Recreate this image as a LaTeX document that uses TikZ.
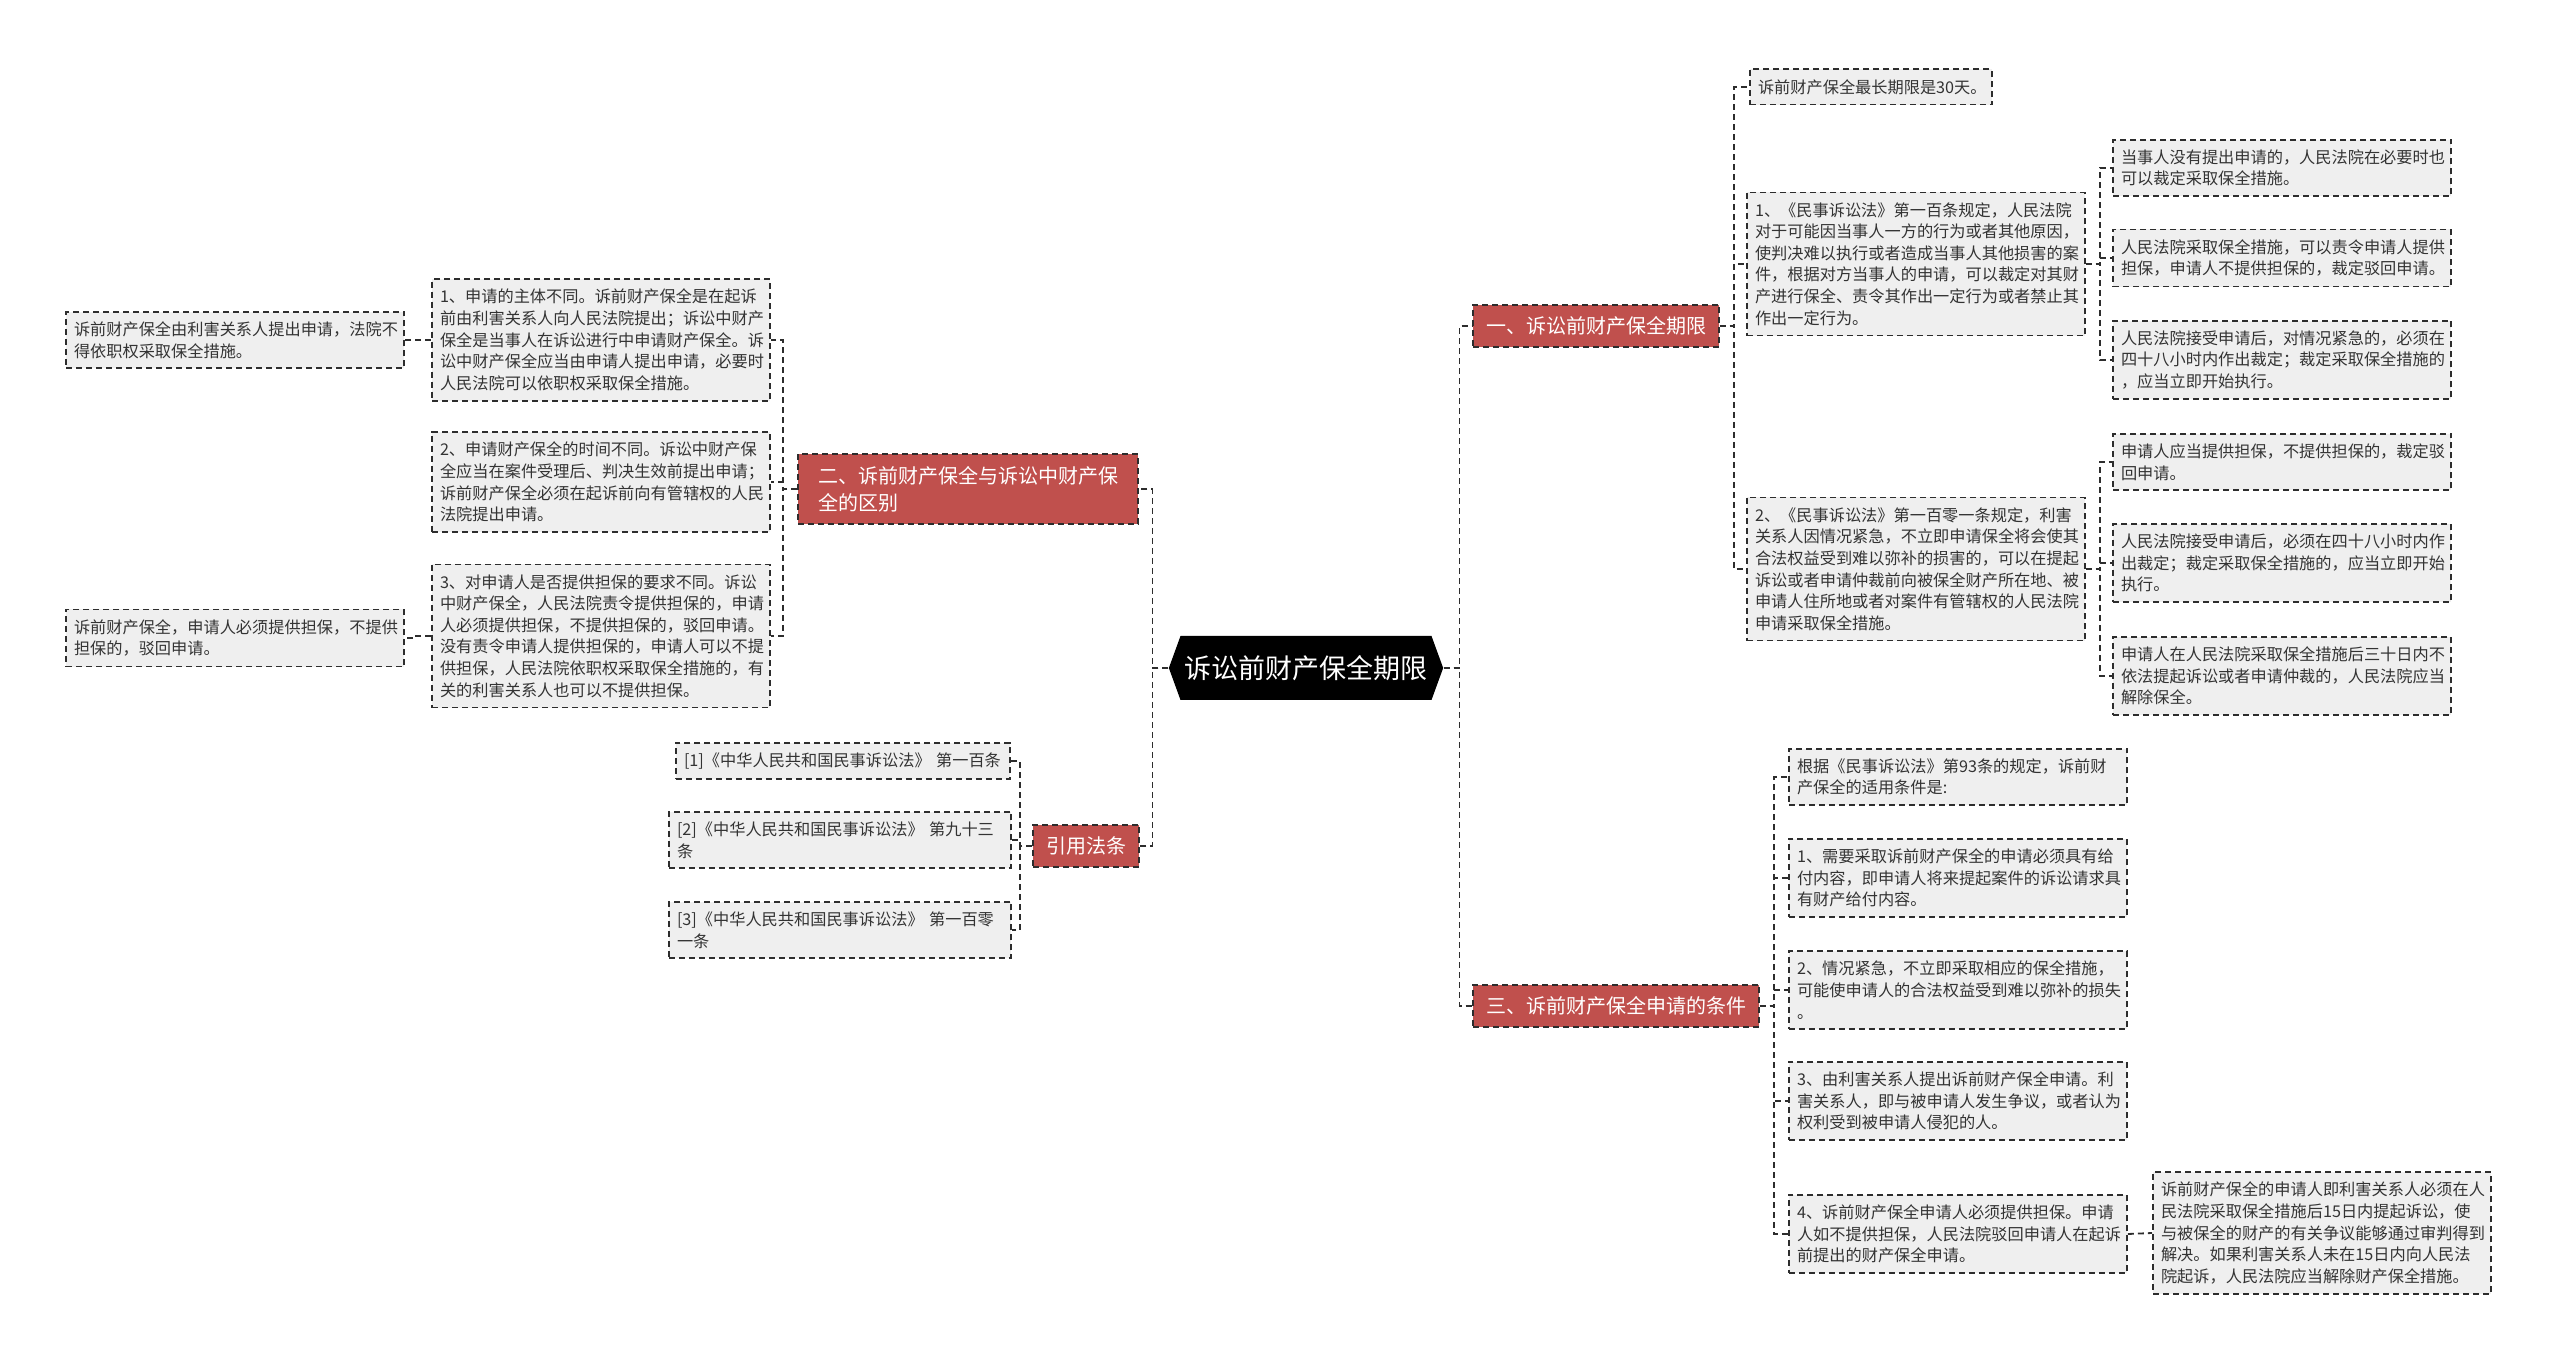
\documentclass[tikz,border=0pt]{standalone}
\usepackage{fontspec}
\setmainfont{Noto Sans CJK SC}
\usetikzlibrary{shapes.symbols}

\definecolor{branchred}{RGB}{192,80,77}
\definecolor{leafgray}{RGB}{239,239,239}
\definecolor{edgegray}{RGB}{45,45,45}

\tikzset{
  link/.style={draw=edgegray, line width=0.9pt, dash pattern=on 3pt off 2pt},
  leaf/.style={draw=edgegray, line width=0.9pt, dash pattern=on 3pt off 2pt,
    fill=leafgray, text=black!80, align=left, text width=161pt,
    inner xsep=4pt, inner ysep=5pt, font=\fontsize{8.1pt}{10.8pt}\selectfont},
  branch/.style={draw=edgegray, line width=0.9pt, dash pattern=on 3pt off 2pt,
    fill=branchred, text=white, align=left,
    inner xsep=6.5pt, inner ysep=6pt, font=\fontsize{10pt}{13.5pt}\selectfont},
  root/.style={signal, signal to=west and east, signal pointer angle=140,
    fill=black, text=white, inner xsep=2pt, minimum height=32pt,
    font=\fontsize{13.5pt}{16pt}\selectfont}
}

\begin{document}
\begin{tikzpicture}[x=0.5pt,y=-0.5pt]
\useasboundingbox (0,0) rectangle (2560,1363);

% centre and main branches
\node[root] (root) at (1306,668) {诉讼前财产保全期限};
\node[branch] (b1) at (1596,326) {一、诉讼前财产保全期限};
\node[branch] (b4) at (1616,1006) {三、诉前财产保全申请的条件};
\node[branch, text width=150pt, inner xsep=10pt] (b2) at (968,489) {二、诉前财产保全与诉讼中财产保\\全的区别};
\node[branch] (b3) at (1086,846) {引用法条};

\draw[link] (root.east) -- ++(16,0) |- (b1.west);
\draw[link] (root.east) -- ++(16,0) |- (b4.west);
\draw[link] (root.west) -- ++(-16,0) |- (b2.east);
\draw[link] (root.west) -- ++(-16,0) |- (b3.east);

% branch one: time limit
\node[leaf, text width=113pt] (l0) at (1871,87) {诉前财产保全最长期限是30天。};
\node[leaf] (l1) at (1916,264) {1、《民事诉讼法》第一百条规定，人民法院\\对于可能因当事人一方的行为或者其他原因，\\使判决难以执行或者造成当事人其他损害的案\\件，根据对方当事人的申请，可以裁定对其财\\产进行保全、责令其作出一定行为或者禁止其\\作出一定行为。};
\node[leaf] (l2) at (1916,569) {2、《民事诉讼法》第一百零一条规定，利害\\关系人因情况紧急，不立即申请保全将会使其\\合法权益受到难以弥补的损害的，可以在提起\\诉讼或者申请仲裁前向被保全财产所在地、被\\申请人住所地或者对案件有管辖权的人民法院\\申请采取保全措施。};

\draw[link] (b1.east) -- ++(14,0) |- (l0.west);
\draw[link] (b1.east) -- ++(14,0) |- (l1.west);
\draw[link] (b1.east) -- ++(14,0) |- (l2.west);

\node[leaf] (l11) at (2282,168) {当事人没有提出申请的，人民法院在必要时也\\可以裁定采取保全措施。};
\node[leaf] (l12) at (2282,258) {人民法院采取保全措施，可以责令申请人提供\\担保，申请人不提供担保的，裁定驳回申请。};
\node[leaf] (l13) at (2282,360) {人民法院接受申请后，对情况紧急的，必须在\\四十八小时内作出裁定；裁定采取保全措施的\\，应当立即开始执行。};

\draw[link] (l1.east) -- ++(14,0) |- (l11.west);
\draw[link] (l1.east) -- ++(14,0) |- (l12.west);
\draw[link] (l1.east) -- ++(14,0) |- (l13.west);

\node[leaf] (l21) at (2282,462) {申请人应当提供担保，不提供担保的，裁定驳\\回申请。};
\node[leaf] (l22) at (2282,563) {人民法院接受申请后，必须在四十八小时内作\\出裁定；裁定采取保全措施的，应当立即开始\\执行。};
\node[leaf] (l23) at (2282,676) {申请人在人民法院采取保全措施后三十日内不\\依法提起诉讼或者申请仲裁的，人民法院应当\\解除保全。};

\draw[link] (l2.east) -- ++(14,0) |- (l21.west);
\draw[link] (l2.east) -- ++(14,0) |- (l22.west);
\draw[link] (l2.east) -- ++(14,0) |- (l23.west);

% branch three: conditions
\node[leaf] (c0) at (1958,777) {根据《民事诉讼法》第93条的规定，诉前财\\产保全的适用条件是:};
\node[leaf] (c1) at (1958,878) {1、需要采取诉前财产保全的申请必须具有给\\付内容，即申请人将来提起案件的诉讼请求具\\有财产给付内容。};
\node[leaf] (c2) at (1958,990) {2、情况紧急，不立即采取相应的保全措施，\\可能使申请人的合法权益受到难以弥补的损失\\。};
\node[leaf] (c3) at (1958,1101) {3、由利害关系人提出诉前财产保全申请。利\\害关系人，即与被申请人发生争议，或者认为\\权利受到被申请人侵犯的人。};
\node[leaf] (c4) at (1958,1234) {4、诉前财产保全申请人必须提供担保。申请\\人如不提供担保，人民法院驳回申请人在起诉\\前提出的财产保全申请。};
\node[leaf] (c41) at (2322,1233) {诉前财产保全的申请人即利害关系人必须在人\\民法院采取保全措施后15日内提起诉讼，使\\与被保全的财产的有关争议能够通过审判得到\\解决。如果利害关系人未在15日内向人民法\\院起诉，人民法院应当解除财产保全措施。};

\draw[link] (b4.east) -- ++(14,0) |- (c0.west);
\draw[link] (b4.east) -- ++(14,0) |- (c1.west);
\draw[link] (b4.east) -- ++(14,0) |- (c2.west);
\draw[link] (b4.east) -- ++(14,0) |- (c3.west);
\draw[link] (b4.east) -- ++(14,0) |- (c4.west);
\draw[link] (c4.east) -- (c41.west);

% branch two: differences
\node[leaf] (d1) at (601,340) {1、申请的主体不同。诉前财产保全是在起诉\\前由利害关系人向人民法院提出；诉讼中财产\\保全是当事人在诉讼进行中申请财产保全。诉\\讼中财产保全应当由申请人提出申请，必要时\\人民法院可以依职权采取保全措施。};
\node[leaf] (d2) at (601,482) {2、申请财产保全的时间不同。诉讼中财产保\\全应当在案件受理后、判决生效前提出申请；\\诉前财产保全必须在起诉前向有管辖权的人民\\法院提出申请。};
\node[leaf] (d3) at (601,636) {3、对申请人是否提供担保的要求不同。诉讼\\中财产保全，人民法院责令提供担保的，申请\\人必须提供担保，不提供担保的，驳回申请。\\没有责令申请人提供担保的，申请人可以不提\\供担保，人民法院依职权采取保全措施的，有\\关的利害关系人也可以不提供担保。};
\node[leaf] (d11) at (235,340) {诉前财产保全由利害关系人提出申请，法院不\\得依职权采取保全措施。};
\node[leaf] (d31) at (235,638) {诉前财产保全，申请人必须提供担保，不提供\\担保的，驳回申请。};

\draw[link] (b2.west) -- ++(-14,0) |- (d1.east);
\draw[link] (b2.west) -- ++(-14,0) |- (d2.east);
\draw[link] (b2.west) -- ++(-14,0) |- (d3.east);
\draw[link] (d1.west) -- ++(-15,0) |- (d11.east);
\draw[link] (d3.west) -- ++(-15,0) |- (d31.east);

% cited articles
\node[leaf, text width=159pt] (e1) at (843,761) {[1]《中华人民共和国民事诉讼法》 第一百条};
\node[leaf, text width=163pt] (e2) at (840,840) {[2]《中华人民共和国民事诉讼法》 第九十三\\条};
\node[leaf, text width=163pt] (e3) at (840,930) {[3]《中华人民共和国民事诉讼法》 第一百零\\一条};

\draw[link] (b3.west) -- ++(-12,0) |- (e1.east);
\draw[link] (b3.west) -- ++(-12,0) |- (e2.east);
\draw[link] (b3.west) -- ++(-12,0) |- (e3.east);

\end{tikzpicture}
\end{document}
